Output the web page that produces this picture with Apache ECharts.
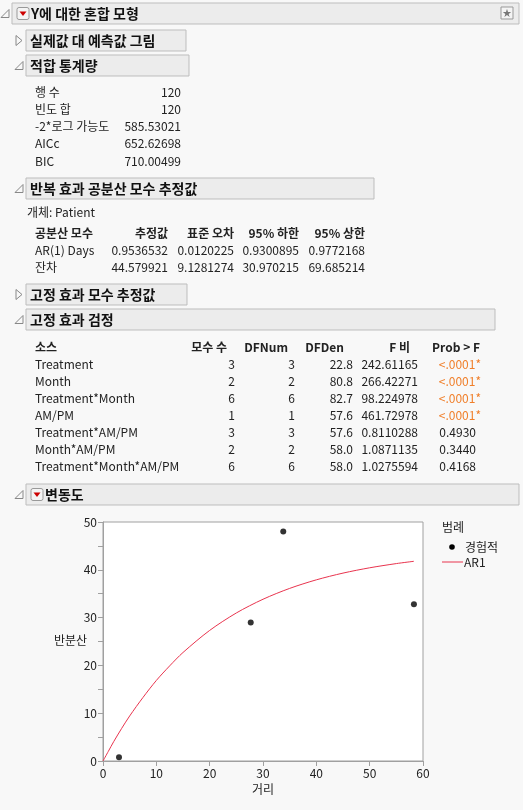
<!DOCTYPE html>
<html><head><meta charset="utf-8">
<script src="https://cdn.jsdelivr.net/npm/echarts@6/dist/echarts.min.js"></script>
<style>html,body{margin:0;padding:0;background:#f8f8f8}#main{width:523px;height:810px}</style>
</head><body><div id="main"></div>
<script>
var myChart = echarts.init(document.getElementById('main'));
var FONT = '"Noto Sans CJK KR", "Noto Sans", sans-serif';

// 적합 통계량
var fitLabels = ['행 수', '빈도 합', '-2*로그 가능도', 'AICc', 'BIC'];
var fitValues = ['120', '120', '585.53021', '652.62698', '710.00499'];

// 반복 효과 공분산 모수 추정값
var covHeader = ['공분산 모수', '추정값', '표준 오차', '95% 하한', '95% 상한'];
var covRows = [
  ['AR(1) Days', '0.9536532', '0.0120225', '0.9300895', '0.9772168'],
  ['잔차', '44.579921', '9.1281274', '30.970215', '69.685214']
];

// 고정 효과 검정
var testHeader = ['소스', '모수 수', 'DFNum', 'DFDen', 'F 비', 'Prob > F'];
var testRows = [
  ['Treatment', '3', '3', '22.8', '242.61165', '<.0001*'],
  ['Month', '2', '2', '80.8', '266.42271', '<.0001*'],
  ['Treatment*Month', '6', '6', '82.7', '98.224978', '<.0001*'],
  ['AM/PM', '1', '1', '57.6', '461.72978', '<.0001*'],
  ['Treatment*AM/PM', '3', '3', '57.6', '0.8110288', '0.4930'],
  ['Month*AM/PM', '2', '2', '58.0', '1.0871135', '0.3440'],
  ['Treatment*Month*AM/PM', '6', '6', '58.0', '1.0275594', '0.4168']
];

// 변동도
var empDist = [3.0, 27.7, 33.8, 58.3];
var empVar = [0.8, 29.0, 48.0, 32.8];
var ar1Dist = [0, 1, 2, 3.5, 5, 7.5, 10, 12.5, 15, 20, 25, 30, 35, 40, 45, 50, 55, 58.3];
var ar1Var = [0, 2.02, 4.04, 6.82, 9.42, 13.3, 16.85, 19.9, 22.70, 27.32, 30.97, 33.84, 36.11, 37.90, 39.31, 40.42, 41.30, 41.78];
var xTicks = [0, 10, 20, 30, 40, 50, 60];

var g = [];
function txt(s, x, y, opt) {
  opt = opt || {};
  g.push({type: 'text', x: x, y: y, silent: true, style: {
    text: s, fill: opt.fill || '#222', textAlign: opt.align || 'left', textVerticalAlign: 'middle',
    font: (opt.bold ? 'bold ' : '') + (opt.size || 12) + 'px ' + FONT }});
}
function header(s, x1, x2, y1, open, menu) {
  g.push({type: 'rect', shape: {x: x1, y: y1, width: x2 - x1, height: 21},
    style: {fill: '#ececec', stroke: '#bdbdbd', lineWidth: 1}});
  var cy = y1 + 10.5, tx = x1 - 8;
  if (open) {
    g.push({type: 'polygon', shape: {points: [[tx + 5, cy - 4], [tx + 5, cy + 4], [tx - 3, cy + 4]]},
      style: {fill: '#f8f8f8', stroke: '#888', lineWidth: 1}});
  } else {
    g.push({type: 'polygon', shape: {points: [[tx - 2, cy - 5], [tx + 4, cy], [tx - 2, cy + 5]]},
      style: {fill: '#f8f8f8', stroke: '#888', lineWidth: 1}});
  }
  var lx = x1 + 4;
  if (menu) {
    g.push({type: 'rect', shape: {x: x1 + 5, y: cy - 6, width: 12, height: 12, r: 2},
      style: {fill: '#f4f4f4', stroke: '#999', lineWidth: 1}});
    g.push({type: 'polygon', shape: {points: [[x1 + 7.5, cy - 2], [x1 + 14.5, cy - 2], [x1 + 11, cy + 2.5]]},
      style: {fill: '#cc0000'}});
    lx = x1 + 19;
  }
  txt(s, lx, cy, {bold: true, size: 14, fill: '#111'});
}

header('Y에 대한 혼합 모형', 12, 519, 3, true, true);
g.push({type: 'rect', shape: {x: 501, y: 7, width: 12, height: 12}, style: {fill: '#f4f4f4', stroke: '#999'}});
txt('★', 507, 13, {align: 'center', size: 9, fill: '#777'});
header('실제값 대 예측값 그림', 26, 186, 30, false, false);
header('적합 통계량', 26, 189, 55, true, false);
fitLabels.forEach(function (l, i) {
  txt(l, 35, 92 + i * 17.3);
  txt(fitValues[i], 181, 92 + i * 17.3, {align: 'right'});
});
header('반복 효과 공분산 모수 추정값', 26, 374, 178, true, false);
txt('개체: Patient', 27, 212);
var covX = [35, 168, 234, 299, 365];
covHeader.forEach(function (h, j) { txt(h, covX[j], 233, {bold: true, align: j ? 'right' : 'left'}); });
covRows.forEach(function (r, i) {
  r.forEach(function (v, j) { txt(v, covX[j], 250 + i * 17, {align: j ? 'right' : 'left'}); });
});
header('고정 효과 모수 추정값', 26, 187, 284, false, false);
header('고정 효과 검정', 26, 495, 309, true, false);
var thX = [35, 227, 288, 344, 410, 480];
var tvX = [35, 235, 295, 353, 418, 481];
testHeader.forEach(function (h, j) { txt(h, thX[j], 347, {bold: true, align: j ? 'right' : 'left'}); });
testRows.forEach(function (r, i) {
  r.forEach(function (v, j) {
    var orange = j === 5 && v.indexOf('<') === 0;
    txt(v, tvX[j] + (j === 5 && !orange ? -5 : 0), 364 + i * 17,
      {align: j ? 'right' : 'left', fill: orange ? '#f07f2a' : '#222'});
  });
});
header('변동도', 26, 519, 484, true, true);
txt('반분산', 54, 640);
txt('범례', 442, 527);
g.push({type: 'circle', shape: {cx: 452, cy: 547, r: 2.8}, style: {fill: '#000'}});
txt('경험적', 465, 547);
g.push({type: 'line', shape: {x1: 442, y1: 562, x2: 463, y2: 562}, style: {stroke: '#e8344e', lineWidth: 1}});
txt('AR1', 464, 562);

option = {
  backgroundColor: '#f8f8f8',
  animation: false,
  grid: {left: 103, top: 522, width: 320, height: 239, show: true, backgroundColor: '#fff', borderColor: '#a0a0a0'},
  xAxis: {
    type: 'value', min: 0, max: 60, interval: 10, name: '거리', nameLocation: 'middle', nameGap: 22,
    nameTextStyle: {color: '#222', fontFamily: FONT, fontSize: 12},
    axisLine: {lineStyle: {color: '#a0a0a0'}}, axisTick: {lineStyle: {color: '#a0a0a0'}, length: 5},
    axisLabel: {color: '#222', fontFamily: FONT, fontSize: 12, margin: 6,
      customValues: xTicks}, splitLine: {show: false}
  },
  yAxis: {
    type: 'value', min: 0, max: 50, interval: 10,
    axisLine: {show: true, lineStyle: {color: '#a0a0a0'}}, axisTick: {show: true, lineStyle: {color: '#a0a0a0'}, length: 5},
    minorTick: {show: true, splitNumber: 2, length: 5, lineStyle: {color: '#a0a0a0'}},
    axisLabel: {color: '#222', fontFamily: FONT, fontSize: 12, margin: 6}, splitLine: {show: false}
  },
  series: [
    {type: 'line', data: ar1Dist.map(function (d, i) { return [d, ar1Var[i]]; }), smooth: 0.3,
      showSymbol: false, lineStyle: {color: '#e8344e', width: 1}},
    {type: 'scatter', data: empDist.map(function (d, i) { return [d, empVar[i]]; }),
      symbolSize: 6, itemStyle: {color: '#000'}}
  ],
  graphic: g
};
myChart.setOption(option);
</script></body></html>
